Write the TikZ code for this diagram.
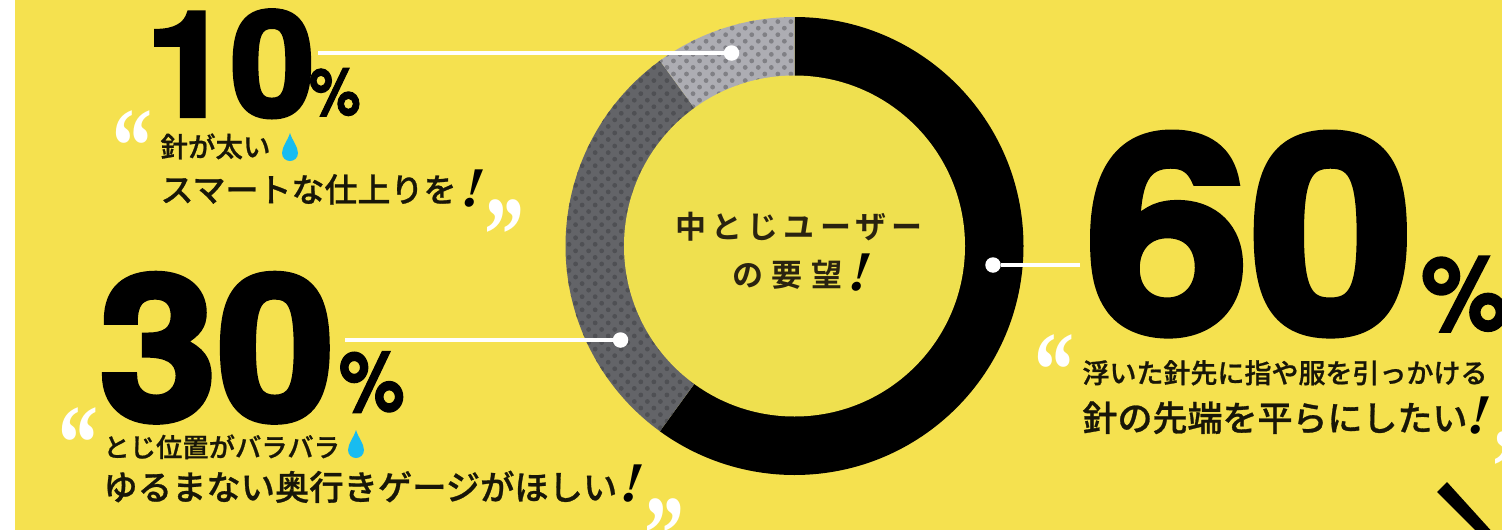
\documentclass[tikz,border=0pt]{standalone}
\usepackage{fontspec}
\newfontfamily\jpm[FakeBold=0.8]{Noto Sans CJK JP Medium}
\newfontfamily\jpba[LetterSpace=17]{Noto Sans CJK JP Bold}
\newfontfamily\jpbb[LetterSpace=29]{Noto Sans CJK JP Bold}
\newfontfamily\bignum[FakeBold=3]{TeX Gyre Heros Bold}
\newfontfamily\pctf[FakeBold=1.5]{TeX Gyre Heros Bold}
\newfontfamily\exclf{Liberation Serif Bold Italic}
\newfontfamily\quotef{Liberation Serif Bold}
\definecolor{bgy}{HTML}{F5E14F}
\definecolor{huby}{HTML}{EFE04F}
\definecolor{lg}{HTML}{ADADB3}
\definecolor{lgd}{HTML}{808085}
\definecolor{dg}{HTML}{636468}
\definecolor{dgd}{HTML}{4F5054}
\definecolor{drop}{HTML}{18BCF0}
\definecolor{hubtxt}{HTML}{2A2310}
\tikzset{
  txt/.style={anchor=base west,inner sep=0pt,outer sep=0pt,text=black!90!bgy},
  num/.style={anchor=base west,inner sep=0pt,outer sep=0pt,text=black},
  leader/.style={draw=white,line width=3.5pt},
  leaderdot/.style={circle,fill=white,inner sep=0pt,minimum size=15.5pt},
  qm/.style={anchor=base west,inner sep=0pt,outer sep=0pt,text=white,xscale=0.74},
  excl/.style={anchor=base west,inner sep=0pt,outer sep=0pt,text=black,xslant=0.12}
}
\newcommand{\dropat}[2]{\fill[drop] (#1,#2-14) .. controls (#1+2,#2-7) and (#1+8,#2) .. (#1+8,#2+6) .. controls (#1+8,#2+11) and (#1+4,#2+14) .. (#1,#2+14) .. controls (#1-4,#2+14) and (#1-8,#2+11) .. (#1-8,#2+6) .. controls (#1-8,#2) and (#1-2,#2-7) .. (#1,#2-14) -- cycle;}
\newcommand{\dotgrid}[1]{\foreach \row in {0,...,72}{\pgfmathsetmacro{\yy}{8.5+\row*6.55}\pgfmathtruncatemacro{\odd}{mod(\row,2)}\foreach \col in {0,...,20}{\pgfmathsetmacro{\xx}{556+\col*13.05+\odd*6.52}\fill[#1] (\xx,\yy) circle[radius=2.4pt];}}}
\begin{document}
\begin{tikzpicture}[x=1pt,y=-1pt]
\clip (0,0) rectangle (1502,530);
\fill[white] (0,0) rectangle (1502,530);
\fill[bgy] (15,0) rectangle (1502,530);
\coordinate (c) at (794.5,246);
% ring
\fill[black] (c) -- ++(90:229pt) arc[start angle=90,end angle=-126,radius=229pt] -- cycle;
\begin{scope}
\clip (c) -- ++(-126:229pt) arc[start angle=-126,end angle=-234,radius=229pt] -- cycle;
\fill[dg] (540,0) rectangle (800,490);
\dotgrid{dgd}
\end{scope}
\begin{scope}
\clip (c) -- ++(126:229pt) arc[start angle=126,end angle=90,radius=229pt] -- cycle;
\fill[lg] (540,0) rectangle (800,490);
\dotgrid{lgd}
\end{scope}
\node[circle,fill=huby,inner sep=0pt,minimum size=341pt] (hub) at (c) {};
\node[anchor=base,inner sep=0pt,text=hubtxt] (t1) at (799,238) {\fontsize{31}{31}\jpba 中とじユーザー};
\node[anchor=base,inner sep=0pt,text=hubtxt] (t2) at (787.5,286) {\fontsize{31}{31}\jpbb の要望};
\node[excl] (t2e) at (847,290) {\fontsize{56}{56}\exclf !};
% leaders
\coordinate (l10) at (318,53);
\coordinate (l30) at (345,340);
\coordinate (l60) at (1080,265);
\node[leaderdot] (d10) at (731.5,53) {};
\node[leaderdot] (d30) at (620.5,340) {};
\node[leaderdot] (d60) at (993,265) {};
\draw[leader] (l10) -- (d10);
\draw[leader] (l30) -- (d30);
\draw[leader] (l60) -- (d60);
% numbers
\node[num,xscale=1.04] (n10) at (146,116) {\fontsize{146}{146}\bignum 10};
\node[num,xscale=0.88] (p10) at (309,115) {\fontsize{66}{66}\pctf \%};
\node[num,xscale=1.05] (n30) at (99,420) {\fontsize{202}{202}\bignum 30};
\node[num,xscale=0.88] (p30) at (339,411) {\fontsize{84}{84}\pctf \%};
\node[num,xscale=1.08] (n60) at (1085,332) {\fontsize{274}{274}\bignum 60};
\node[num,xscale=0.95] (p60) at (1421,330) {\fontsize{104}{104}\pctf \%};
% quotes
\node[qm] (q1a) at (112,182.6) {\fontsize{108}{108}\quotef “};
\node[qm] (q1b) at (484,271) {\fontsize{108}{108}\quotef ”};
\node[qm] (q2a) at (58,479.6) {\fontsize{108}{108}\quotef “};
\node[qm] (q2b) at (644,570) {\fontsize{108}{108}\quotef ”};
\node[qm] (q3a) at (1034,406.6) {\fontsize{108}{108}\quotef “};
\node[qm] (q3b) at (1492,503) {\fontsize{108}{108}\quotef ”};
% captions
\node[txt] (a1) at (160.5,157) {\fontsize{27.5}{27.5}\jpm 針が太い};
\dropat{290}{147}
\node[txt] (a2) at (160.5,202) {\fontsize{33}{33}\jpm スマートな仕上りを};
\node[excl] (a2e) at (460,206) {\fontsize{56}{56}\exclf !};
\node[txt] (b1) at (103.5,457) {\fontsize{26.3}{26.3}\jpm とじ位置がバラバラ};
\dropat{356}{444}
\node[txt] (b2) at (103.5,500) {\fontsize{34.3}{34.3}\jpm ゆるまない奥行きゲージがほしい};
\node[excl] (b2e) at (619,501) {\fontsize{56}{56}\exclf !};
\node[txt] (c1) at (1082.5,383) {\fontsize{27}{27}\jpm 浮いた針先に指や服を引っかける};
\dropat{1510}{373}
\node[txt] (c2) at (1082.5,431) {\fontsize{35}{35}\jpm 針の先端を平らにしたい};
\node[excl] (c2e) at (1466,433) {\fontsize{56}{56}\exclf !};
% corner bar
\fill[black] (1447,482) -- (1437,492) -- (1480,535) -- (1495,535) -- cycle;
\end{tikzpicture}
\end{document}
